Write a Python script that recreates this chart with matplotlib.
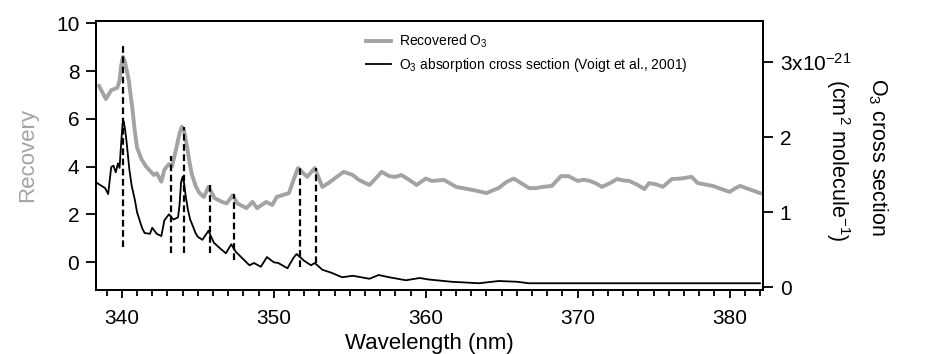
import matplotlib
matplotlib.use("Agg")
import matplotlib.pyplot as plt
from matplotlib.ticker import MultipleLocator, FixedLocator

plt.rcParams['font.family'] = ['Liberation Sans', 'DejaVu Sans']
plt.rcParams['mathtext.fontset'] = 'custom'
plt.rcParams['mathtext.rm'] = 'Liberation Sans'
plt.rcParams['mathtext.it'] = 'Liberation Sans:italic'
plt.rcParams['mathtext.bf'] = 'Liberation Sans:bold'

# Recovered O3 (left axis)
rec_wl = [338.5, 338.95, 339.3, 339.7, 339.85, 339.95, 340.07, 340.2, 340.35, 340.46,
          340.6, 340.7, 340.85, 341.0, 341.3, 341.6,
          342.1, 342.3, 342.6, 342.8, 343.1, 343.3, 343.6, 343.8, 343.95, 344.1,
          344.3, 344.45, 344.6, 344.85,
          345.1, 345.4, 345.7, 346.1, 346.6, 346.9, 347.3, 347.6, 348.2, 348.6,
          348.9, 349.5, 349.9, 350.2, 351.0, 351.3, 351.6, 352.2, 352.7, 353.2,
          353.6, 354.0, 354.6, 355.2, 355.6, 356.3, 356.7, 357.1, 357.6, 358.0,
          358.4, 358.9, 359.4, 360.0, 360.4, 361.2, 361.6, 362.0, 362.6, 363.1,
          363.6, 364.0, 364.4, 364.8, 365.3, 365.8, 366.3, 366.8, 367.3, 367.7,
          368.3, 368.9, 369.4, 370.0, 370.4, 370.8, 371.2, 371.6, 372.1, 372.6,
          373.0, 373.4, 373.9, 374.4, 374.7, 375.2, 375.6, 376.2, 376.8, 377.5,
          377.9, 378.4, 378.9, 379.5, 380.0, 380.4, 380.7, 381.3, 382.0]
rec_val = [7.38, 6.83, 7.2, 7.3, 7.6, 8.2, 8.6, 8.4, 7.95, 7.6,
           6.9, 6.4, 5.5, 4.8, 4.3, 4.0,
           3.65, 3.72, 3.37, 3.87, 4.1, 4.0, 4.8, 5.4, 5.67, 5.5,
           4.8, 4.2, 3.7, 3.2,
           2.9, 2.73, 3.15, 2.68, 2.52, 2.46, 2.8, 2.46, 2.26, 2.52,
           2.26, 2.52, 2.39, 2.73, 2.89, 3.44, 3.94, 3.57, 3.94, 3.15,
           3.31, 3.5, 3.78, 3.65, 3.44, 3.23, 3.5, 3.78, 3.6, 3.57,
           3.65, 3.45, 3.23, 3.5, 3.4, 3.44, 3.3, 3.15, 3.08, 3.02,
           2.95, 2.89, 3.0, 3.1, 3.35, 3.5, 3.3, 3.1, 3.1, 3.15,
           3.19, 3.6, 3.6, 3.4, 3.45, 3.4, 3.3, 3.15, 3.3, 3.48,
           3.42, 3.4, 3.25, 3.06, 3.31, 3.25, 3.15, 3.48, 3.5, 3.57,
           3.31, 3.25, 3.19, 3.05, 2.94, 3.1, 3.19, 3.05, 2.89]

# O3 absorption cross section (right axis, units of 1e-21 cm2 molecule-1)
xs_wl = [338.35, 338.9, 339.1, 339.3, 339.45, 339.6, 339.75, 339.85, 339.95, 340.05,
         340.12, 340.2, 340.3, 340.4, 340.5, 340.65, 340.86, 341.0, 341.2, 341.35,
         341.5, 341.85, 342.0, 342.3, 342.6, 342.8, 343.1,
         343.4, 343.7, 343.8, 343.9, 344.0, 344.1, 344.2, 344.35, 344.5, 344.7,
         344.85, 345.0, 345.3, 345.7, 346.06,
         346.5, 346.85, 347.2, 347.5, 347.9, 348.4, 348.7, 349.15, 349.55, 350.0,
         350.3, 350.9, 351.3, 351.5, 352.0, 352.45, 352.7, 353.2, 353.8, 354.5,
         355.2, 356.3, 356.9, 357.6, 358.7, 359.6, 360.2, 361.7, 363.5, 364.8,
         366.0, 366.8, 370.0, 375.0, 382.0]
xs_val = [1.39, 1.32, 1.24, 1.6, 1.62, 1.53, 1.65, 1.59, 1.9, 2.18,
          2.21, 2.12, 1.96, 1.76, 1.56, 1.35, 1.16, 1.0, 0.87, 0.78,
          0.72, 0.71, 0.79, 0.71, 0.68, 0.89, 0.97,
          0.9, 0.93, 1.1, 1.4, 1.47, 1.38, 1.22, 1.03, 0.9, 0.8,
          0.72, 0.67, 0.63, 0.75, 0.59,
          0.51, 0.45, 0.57, 0.47, 0.39, 0.29, 0.32, 0.27, 0.4, 0.33,
          0.32, 0.25, 0.39, 0.44, 0.35, 0.29, 0.32, 0.23, 0.19, 0.13,
          0.15, 0.11, 0.16, 0.13, 0.09, 0.12, 0.1, 0.07, 0.05, 0.08,
          0.07, 0.05, 0.05, 0.05, 0.05]

# Dashed marker lines (wavelength, bottom, top in Recovery units)
mark_wl = [340.1, 343.26, 344.1, 345.78, 347.36, 351.7, 352.8]
mark_lo = [0.63, 0.38, 0.38, 0.38, 0.08, -0.21, -0.04]
mark_hi = [9.18, 4.44, 5.66, 3.35, 2.85, 3.94, 3.94]

right_ticks = [0, 1, 2, 3]
right_labels = ['0', '1', '2', '3x10$^{-21}$']

GREY = '#a3a3a3'

fig = plt.figure(figsize=(9.26, 3.54), dpi=100)
ax = fig.add_axes([96/926, 64/354, 667/926, 269/354])
ax2 = ax.twinx()

l1, = ax.plot(rec_wl, rec_val, color=GREY, lw=2.8, label='Recovered O$_3$')
l2, = ax2.plot(xs_wl, xs_val, color='black', lw=1.3,
               label='O$_3$ absorption cross section (Voigt et al., 2001)')
ax2.vlines(mark_wl, mark_lo, mark_hi, colors='black', linestyles=(0, (3, 1.6)),
           lw=1.6, transform=ax.transData, zorder=5)

ax.set_xlim(338.3, 382.2)
ax.set_ylim(-1.17, 10.1)
ax2.set_ylim(-0.04, 3.55)

ax.xaxis.set_major_locator(MultipleLocator(10))
ax.xaxis.set_minor_locator(MultipleLocator(1))
ax.yaxis.set_major_locator(MultipleLocator(2))
ax2.yaxis.set_major_locator(FixedLocator(right_ticks))
ax2.set_yticklabels(right_labels)

for a in (ax, ax2):
    for s in a.spines.values():
        s.set_linewidth(1.4)
ax.tick_params(axis='y', which='major', direction='out', length=7, width=1.3,
               labelsize=15, pad=5)
ax.tick_params(axis='x', which='major', direction='out', length=6, width=1.3,
               labelsize=15, pad=8)
ax.tick_params(axis='x', which='minor', direction='out', length=4, width=1.3)
ax2.tick_params(axis='y', which='major', direction='out', length=7, width=1.3,
                labelsize=15, pad=5)

ax.set_xlabel('Wavelength (nm)', fontsize=16, labelpad=3)
ax.set_ylabel('Recovery', fontsize=16, color=GREY, labelpad=13)

fig.text(878/926, 1 - 157/354, 'O$_3$ cross section', rotation=270, fontsize=15.5,
         ha='center', va='center')
fig.text(838/926, 1 - 160/354, '(cm$^2$ molecule$^{-1}$)', rotation=270, fontsize=15.5,
         ha='center', va='center')

leg = ax.legend(handles=[l1, l2], loc='upper left',
                bbox_to_anchor=((366 - 96) / 667, (290 - 33) / 269),
                frameon=False, fontsize=10, handlelength=1.8, handletextpad=0.6,
                borderpad=0, borderaxespad=0, labelspacing=0.4)

fig.savefig('out.png', dpi=100)
